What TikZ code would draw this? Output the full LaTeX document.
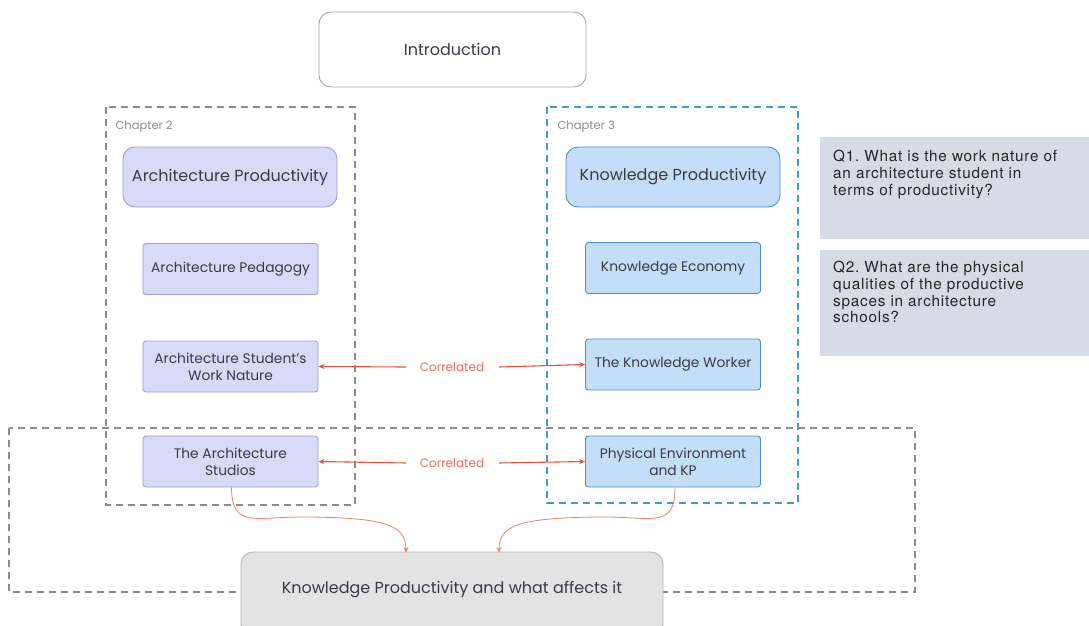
\documentclass[tikz,border=0pt]{standalone}
\usepackage{fontspec}
\setmainfont{Poppins}
\newfontfamily\qfont[LetterSpace=5]{TeX Gyre Heros}
\usetikzlibrary{arrows.meta}
\definecolor{lavfill}{HTML}{D9D9FA}
\definecolor{lavline}{HTML}{A0A0D2}
\definecolor{bluefill}{HTML}{C4DEF9}
\definecolor{blueline}{HTML}{4E8FCB}
\definecolor{chapblue}{HTML}{3D9FC8}
\definecolor{dashgray}{HTML}{8C8C8C}
\definecolor{qfill}{HTML}{D6DCE5}
\definecolor{kpfill}{HTML}{E3E3E3}
\definecolor{kpline}{HTML}{B3B3B3}
\definecolor{corred}{HTML}{E4533D}
\definecolor{txt}{HTML}{3A3A4A}
\tikzset{
  base/.style={align=center, text=txt, inner sep=2pt},
  headbox/.style={base, rounded corners=12pt, minimum width=214pt, minimum height=60pt, font=\fontsize{16}{18}\selectfont},
  subbox/.style={base, rounded corners=3pt, minimum width=175pt, minimum height=51pt, font=\fontsize{13.8}{16.7}\selectfont},
  lav/.style={fill=lavfill, draw=lavline, line width=0.9pt},
  blu/.style={fill=bluefill, draw=blueline, line width=0.9pt},
  chapframe/.style={dashed, dash pattern=on 7pt off 5pt, line width=1.2pt},
  chaplabel/.style={anchor=west, text=black!45, font=\fontsize{11.5}{13}\selectfont},
  qbox/.style={fill=qfill, draw=none, minimum width=269pt, anchor=north west},
  qtext/.style={anchor=north west, align=left, inner sep=0pt, text=black!85, font=\qfont\fontsize{15.3}{16.7}\selectfont\frenchspacing},
  corr/.style={draw=corred, line width=1.1pt, -{Stealth[length=6pt,width=5pt]}},
  corrlabel/.style={text=corred!85, font=\fontsize{12}{14}\selectfont},
  flow/.style={draw=corred!75, line width=0.8pt, -{Stealth[length=6pt,width=5pt, open]}}
}
\begin{document}
\begin{tikzpicture}[x=1pt,y=-1pt]
\useasboundingbox (0,0) rectangle (1089,626);

% introduction
\node[base, rounded corners=12pt, draw=gray!70, line width=0.9pt, fill=white, minimum width=267pt, minimum height=75pt, font=\fontsize{16}{18}\selectfont] (intro) at (452.5,49.5) {Introduction};

% chapter frames
\draw[chapframe, draw=dashgray] (106,107) rectangle (355,505);
\draw[chapframe, draw=chapblue] (547,107) rectangle (798,503);
\node[chaplabel] (ch2) at (112,127) {Chapter 2};
\node[chaplabel] (ch3) at (554,127) {Chapter 3};

% lower frame
\draw[chapframe, draw=dashgray] (9,428) rectangle (915,592);

% chapter 2 boxes
\node[headbox, lav] (ap) at (230,177) {Architecture Productivity};
\node[subbox, lav] (ped) at (230.5,269) {Architecture Pedagogy};
\node[subbox, lav] (wn) at (230.5,366.5) {Architecture Student's\\Work Nature};
\node[subbox, lav] (st) at (230.5,461.5) {The Architecture\\Studios};

% chapter 3 boxes
\node[headbox, blu] (kp) at (673,177) {Knowledge Productivity};
\node[subbox, blu] (ke) at (673,268) {Knowledge Economy};
\node[subbox, blu] (kw) at (673,364.5) {The Knowledge Worker};
\node[subbox, blu] (pe) at (673,461.5) {Physical Environment\\and KP};

% conclusion
\node[base, rounded corners=12pt, draw=kpline, line width=0.9pt, fill=kpfill, minimum width=422pt, minimum height=84pt] (kpa) at (452,594) {};
\node[base, font=\fontsize{16}{18}\selectfont] (kpat) at (452,590) {Knowledge Productivity and what affects it};

% research questions
\node[qbox, minimum height=102pt] (q1) at (820,137) {};
\node[qbox, minimum height=106pt] (q2) at (820,250) {};
\node[qtext] (q1t) at ([xshift=13pt, yshift=-13pt]q1.north west) {Q1. What is the work nature of\\an architecture student in\\terms of productivity?};
\node[qtext] (q2t) at ([xshift=13pt, yshift=-11pt]q2.north west) {Q2. What are the physical\\qualities of the productive\\spaces in architecture\\schools?};

% correlations
\node[corrlabel] (c1) at (452,367) {Correlated};
\node[corrlabel] (c2) at (452,463) {Correlated};
\coordinate (c1w) at (406,367);
\coordinate (c1e) at (499,367);
\coordinate (c2w) at (406,463);
\coordinate (c2e) at (499,463);
\draw[corr] (c1w) -- (wn.east);
\draw[corr] (c1e) -- (kw.west);
\draw[corr] (c2w) -- (st.east);
\draw[corr] (c2e) -- (pe.west);

% flows into the conclusion
\coordinate (in1) at (406,553);
\coordinate (in2) at (499,553);
\draw[flow] ([xshift=1pt]st.south) .. controls (232,530) and (255,516) .. (310,517) .. controls (385,518) and (406,525) .. (in1);
\draw[flow] ([xshift=2pt]pe.south) .. controls (675,530) and (652,516) .. (597,517) .. controls (520,518) and (499,525) .. (in2);
\end{tikzpicture}
\end{document}
